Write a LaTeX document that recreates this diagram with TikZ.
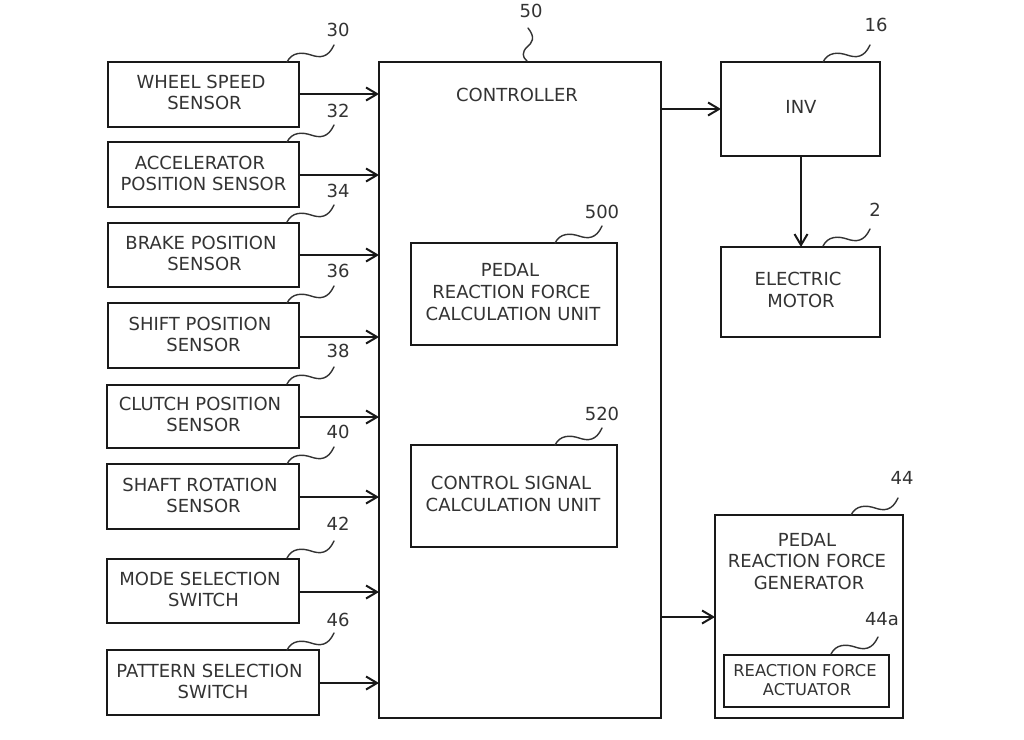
\documentclass[tikz,border=0pt]{standalone}
\usepackage{fontspec}
\setmainfont{DejaVu Sans}
\usetikzlibrary{arrows.meta}
\tikzset{
 x=1pt,y=-1pt,
 bx/.style={draw=black!90,line width=2pt,inner sep=0pt,outer sep=0pt},
 lb/.style={font=\fontsize{18}{21.8}\selectfont,align=center,inner sep=0pt,text=black!80},
 num/.style={font=\fontsize{18}{20}\selectfont,inner sep=0pt,text=black!80},
 cn/.style={line width=2pt,black!90,-{Straight Barb[length=11pt,width=13pt,line width=2pt]}},
 sq/.style={line width=1.4pt,black!80,line cap=round},
}
\newcommand{\bxat}[5]{%
 \node[bx,minimum width=#4-#2,minimum height=#5-#3,anchor=north west] (#1) at (#2,#3) {};}
\newcommand{\squig}[2]{%
 \draw[sq] (#1,#2) .. controls ({#1+5},{#2-10}) and ({#1+15},{#2-10}) .. ({#1+24},{#2-7}) .. controls ({#1+33},{#2-4}) and ({#1+41},{#2-4}) .. ({#1+47},{#2-17});}
\newcommand{\off}{\hspace*{7pt}}
\begin{document}
\begin{tikzpicture}
\useasboundingbox (0,0) rectangle (1024,739);
\fill[white] (0,0) rectangle (1024,739);
\bxat{a}{108}{62}{299}{127}
\bxat{b}{108}{142}{299}{207}
\bxat{c}{108}{223}{299}{287}
\bxat{d}{108}{303}{299}{368}
\bxat{e}{106.5}{385}{299}{448}
\bxat{f}{106.5}{464}{299}{529}
\bxat{g}{106.5}{559}{299}{623}
\bxat{h}{106.5}{650}{319}{715}
\bxat{ctl}{379}{62}{661}{718}
\bxat{u1}{411}{243}{617}{345}
\bxat{u2}{411}{445}{617}{547}
\bxat{inv}{721}{62}{880}{156}
\bxat{mot}{721}{247}{880}{337}
\bxat{gen}{715}{515}{903}{718}
\bxat{act}{724}{655}{889}{707}
\node[lb] at (201,92.5) {WHEEL SPEED\\\off SENSOR};
\node[lb] at (200,173.5) {ACCELERATOR\\\off POSITION SENSOR};
\node[lb] at (201,253.5) {BRAKE POSITION\\\off SENSOR};
\node[lb] at (200,334.5) {SHIFT POSITION\\\off SENSOR};
\node[lb] at (200,414.5) {CLUTCH POSITION\\\off SENSOR};
\node[lb] at (200,495.5) {SHAFT ROTATION\\\off SENSOR};
\node[lb] at (200,589.5) {MODE SELECTION\\\off SWITCH};
\node[lb] at (209.5,681.5) {PATTERN SELECTION\\\off SWITCH};
\node[lb] at (517,95) {CONTROLLER};
\node[lb] at (513,292) {\hspace*{-6pt}PEDAL\\\hspace*{-3pt}REACTION FORCE\\CALCULATION UNIT};
\node[lb] at (513,494) {\hspace*{-4pt}CONTROL SIGNAL\\CALCULATION UNIT};
\node[lb] at (801,107) {INV};
\node[lb] at (798,290) {ELECTRIC\\\hspace*{6pt}MOTOR};
\node[lb] at (807,561.5) {PEDAL\\REACTION FORCE\\\hspace*{4pt}GENERATOR};
\node[lb,font=\fontsize{16.3}{19}\selectfont] at (805,680) {REACTION FORCE\\\hspace*{4pt}ACTUATOR};
\foreach \n/\y in {a/94,b/175,c/255,d/337,e/417,f/497,g/592}
  \draw[cn] (\n.east |- 0,\y) -- (ctl.west |- 0,\y);
\draw[cn,line width=1.5pt] (h.east |- 0,683) -- (ctl.west |- 0,683);
\draw[cn] (ctl.east |- 0,109) -- (inv.west |- 0,109);
\draw[cn] (ctl.east |- 0,617) -- (gen.west |- 0,617);
\draw[cn] ([xshift=.5pt]inv.south) -- ([xshift=.5pt]mot.north);
\squig{287}{62}
\squig{287}{142}
\squig{287}{222}
\squig{287}{303}
\squig{287}{384}
\squig{287}{464}
\squig{287}{558}
\squig{287}{650}
\squig{555}{243}
\squig{555}{445}
\squig{823}{62}
\squig{823}{246}
\squig{851}{515}
\squig{831}{654}
\draw[sq] (527,61) .. controls (522,57) and (522,52) .. (527,47) .. controls (532,43) and (536,38) .. (528,28);
\node[num] at (338,30) {30};
\node[num] at (338,111) {32};
\node[num] at (338,191) {34};
\node[num] at (338,271) {36};
\node[num] at (338,351) {38};
\node[num] at (338,432) {40};
\node[num] at (338,524) {42};
\node[num] at (338,620) {46};
\node[num] at (531,11) {50};
\node[num] at (876,25) {16};
\node[num] at (875,210) {2};
\node[num] at (602,212) {500};
\node[num] at (602,414) {520};
\node[num] at (902,478) {44};
\node[num] at (882,619) {44a};
\end{tikzpicture}
\end{document}
